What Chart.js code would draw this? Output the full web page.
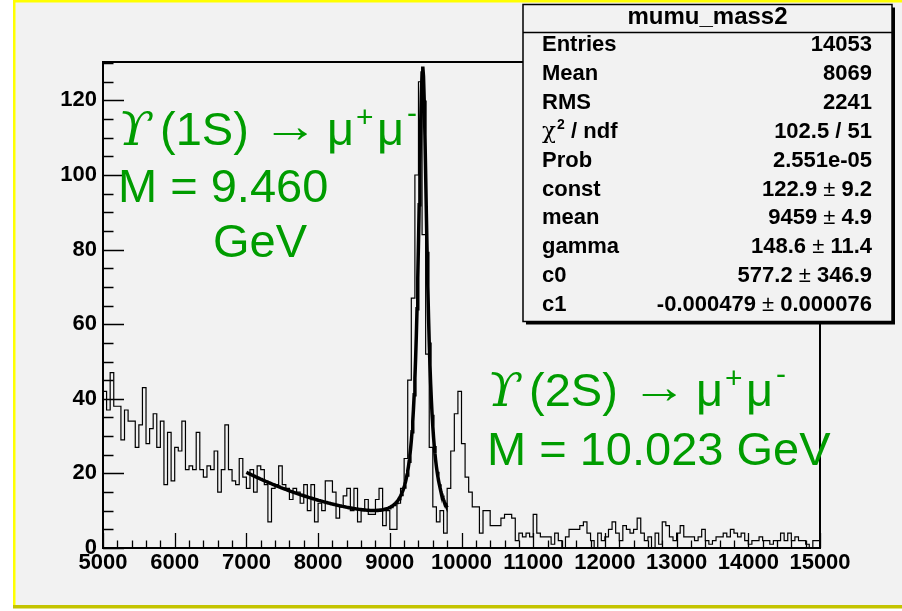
<!DOCTYPE html>
<html>
<head>
<meta charset="utf-8">
<script src="https://cdn.jsdelivr.net/npm/chart.js@4.4.1/dist/chart.umd.min.js"></script>
<style>
    html, body { margin: 0; padding: 0; background: #ffffff; }
    canvas { display: block; }
</style>
</head>
<body>
<canvas id="chartMass" width="902" height="611"></canvas>
<script>
// Istogramma massa invariante mu+mu- (bin da 50 MeV)
const X_MIN = 5000;
const X_MAX = 15000;
const BIN_WIDTH = 50;
const Y_MAX = 130.3;

const xTicks = [5000, 6000, 7000, 8000, 9000, 10000, 11000, 12000, 13000, 14000, 15000];
const yTicks = [0, 20, 40, 60, 80, 100, 120];

// conteggi per bin, da 5000 a 15000
const counts = [
    38, 42, 37, 47, 38, 38, 29, 37, 34, 34,
    27, 33, 43, 28, 32, 36, 27, 34, 17, 31,
    18, 27, 26, 34, 21, 22, 21, 31, 21, 19,
    22, 21, 26, 15, 21, 33, 21, 18, 17, 24,
    19, 16, 21, 15, 22, 21, 17, 7, 16, 17,
    22, 17, 16, 13, 16, 15, 12, 17, 10, 17,
    7, 12, 10, 18, 18, 15, 8, 11, 14, 16,
    10, 16, 7, 10, 13, 9, 9, 13, 16, 6,
    10, 5, 5, 12, 16, 24, 45, 67, 100, 125,
    84, 52, 27, 11, 7, 10, 4, 16, 26, 36,
    42, 28, 19, 15, 11, 11, 4, 10, 10, 6,
    6, 6, 8, 9, 9, 8, 2, 4, 3, 4,
    3, 9, 4, 3, 3, 3, 1, 4, 2, 0,
    3, 5, 5, 5, 6, 7, 4, 2, 0, 4,
    2, 3, 5, 7, 4, 2, 6, 5, 4, 5,
    8, 4, 2, 3, 0, 4, 1, 7, 6, 3,
    2, 4, 6, 3, 3, 3, 2, 3, 5, 2,
    1, 2, 3, 3, 4, 3, 5, 4, 3, 4,
    2, 1, 2, 2, 3, 2, 2, 1, 2, 2,
    4, 2, 4, 2, 3, 2, 2, 1, 0, 2
];

// parametri del fit (Breit-Wigner + fondo esponenziale)
const fitNames = ['const', 'mean', 'gamma', 'c0', 'c1'];
const fitValues = [122.9, 9459, 148.6, 577.2, -0.000479];
const fitErrors = [9.2, 4.9, 11.4, 346.9, 0.000076];
const fitRange = [7000, 9800];

const statNames = ['Entries', 'Mean', 'RMS', 'χ2 / ndf', 'Prob'];
const statValues = ['14053', '8069', '2241', '102.5 / 51', '2.551e-05'];

const HIST_NAME = 'mumu_mass2';
const GREEN = '#009c00';
const FONT = '"Liberation Sans", Arial, sans-serif';

// funzione di fit valutata con i parametri sopra
function fitFunction(x) {
    const [c, m, g, c0, c1] = fitValues;
    const t = (x - m) / (g / 2);
    return c / (1 + t * t) + c0 * Math.exp(c1 * x);
}

function buildHistPoints() {
    const pts = counts.map((v, i) => ({ x: X_MIN + i * BIN_WIDTH, y: v }));
    pts.push({ x: X_MAX, y: counts[counts.length - 1] });
    return pts;
}

function buildFitPoints() {
    const pts = [];
    for (let x = fitRange[0]; x <= fitRange[1]; x += 10) {
        pts.push({ x: x, y: fitFunction(x) });
    }
    return pts;
}

// testo compresso/allargato a una larghezza data
function fitText(ctx, text, x, y, width) {
    const w = ctx.measureText(text).width;
    ctx.save();
    ctx.translate(x, y);
    ctx.scale(width / w, 1);
    ctx.fillText(text, 0, 0);
    ctx.restore();
}

// Sfondo della canvas stile ROOT
function drawBackground(ctx) {
    ctx.save();
    ctx.fillStyle = '#ffffff';
    ctx.fillRect(0, 0, 902, 611);
    ctx.fillStyle = '#f2f2f2';
    ctx.fillRect(14, 1, 888, 606);
    ctx.fillStyle = '#ffff00';
    ctx.fillRect(13, 0, 889, 2.5);
    ctx.fillRect(13, 0, 2.5, 608);
    ctx.fillStyle = '#c4c400';
    ctx.fillRect(13, 605, 889, 3.5);
    ctx.restore();
}

// Cornice e tacche degli assi (verso l'interno)
function drawFrame(chart) {
    const ctx = chart.ctx;
    const a = chart.chartArea;
    const xs = chart.scales.x;
    const ys = chart.scales.y;
    ctx.save();
    ctx.strokeStyle = '#000';
    ctx.lineWidth = 2;
    ctx.strokeRect(a.left, a.top, a.right - a.left, a.bottom - a.top);

    ctx.lineWidth = 1.3;
    ctx.beginPath();
    for (let v = X_MIN; v <= X_MAX; v += 200) {
        const px = Math.round(xs.getPixelForValue(v)) + 0.5;
        const len = v % 1000 === 0 ? 15 : 7.5;
        ctx.moveTo(px, a.bottom);
        ctx.lineTo(px, a.bottom - len);
    }
    for (let v = 0; v <= Y_MAX; v += 5) {
        const py = Math.round(ys.getPixelForValue(v)) + 0.5;
        const len = v % 20 === 0 ? 21 : 10.5;
        ctx.moveTo(a.left, py);
        ctx.lineTo(a.left + len, py);
    }
    ctx.stroke();
    ctx.restore();
}

// Box statistiche in alto a destra
function drawStatsBox(ctx) {
    const left = 523, top = 4.5, right = 892, bottom = 321.5;
    const labelX = 542, valueX = 872;
    ctx.save();
    ctx.fillStyle = '#000';
    ctx.fillRect(left + 3, top + 3, right - left, bottom - top);
    ctx.fillStyle = '#f2f2f2';
    ctx.fillRect(left, top, right - left, bottom - top);
    ctx.strokeStyle = '#000';
    ctx.lineWidth = 1.5;
    ctx.strokeRect(left, top, right - left, bottom - top);
    ctx.beginPath();
    ctx.moveTo(left, 32.5);
    ctx.lineTo(right, 32.5);
    ctx.stroke();

    ctx.fillStyle = '#000';
    ctx.textBaseline = 'alphabetic';
    ctx.textAlign = 'center';
    ctx.font = 'bold 24px ' + FONT;
    ctx.fillText(HIST_NAME, (left + right) / 2, 24);

    const bold = 'bold 22px ' + FONT;
    const plain = '22px ' + FONT;
    const names = statNames.concat(fitNames);
    const values = statValues.concat(fitValues.map((v, i) => [String(v), String(fitErrors[i])]));

    names.forEach((name, k) => {
        const y = 51 + 28.9 * k;
        ctx.textAlign = 'left';
        if (name.startsWith('χ2')) {
            ctx.font = '23px "DejaVu Serif", serif';
            ctx.fillText('χ', labelX, y);
            const wc = ctx.measureText('χ').width;
            ctx.font = 'bold 14px ' + FONT;
            ctx.fillText('2', labelX + wc + 1, y - 9);
            ctx.font = bold;
            ctx.fillText(name.slice(2), labelX + wc + 9, y);
        } else {
            ctx.font = bold;
            ctx.fillText(name, labelX, y);
        }

        const val = values[k];
        if (Array.isArray(val)) {
            ctx.font = bold;
            const w1 = ctx.measureText(val[0]).width;
            const w3 = ctx.measureText(val[1]).width;
            ctx.font = plain;
            const w2 = ctx.measureText(' ± ').width;
            let x = valueX - (w1 + w2 + w3);
            ctx.font = bold;
            ctx.fillText(val[0], x, y);
            ctx.font = plain;
            ctx.fillText(' ± ', x + w1, y);
            ctx.font = bold;
            ctx.fillText(val[1], x + w1 + w2, y);
        } else {
            ctx.font = bold;
            ctx.textAlign = 'right';
            ctx.fillText(val, valueX, y);
        }
    });
    ctx.restore();
}

// Etichetta del decadimento: Y(nS) -> mu+ mu-
function drawDecay(ctx, x, y, state) {
    ctx.font = 'italic 47px "DejaVu Serif", serif';
    fitText(ctx, 'ϒ', x, y, 34);
    ctx.font = '47px ' + FONT;
    ctx.fillText('(' + state + ')', x + 42, y);
    ctx.font = '47px "Liberation Serif", serif';
    fitText(ctx, '→', x + 144, y - 3, 56);
    ctx.font = '47px ' + FONT;
    ctx.fillText('μ', x + 209, y);
    ctx.fillText('μ', x + 259, y);
    ctx.font = '30px ' + FONT;
    ctx.fillText('+', x + 238, y - 18);
    ctx.fillText('-', x + 289, y - 22);
}

function drawPeakLabels(ctx) {
    ctx.save();
    ctx.fillStyle = GREEN;
    ctx.textAlign = 'left';
    ctx.textBaseline = 'alphabetic';
    drawDecay(ctx, 118, 145, '1S');
    ctx.font = '47px ' + FONT;
    ctx.fillText('M = 9.460', 118, 202);
    ctx.fillText('GeV', 213, 257);
    drawDecay(ctx, 487, 406, '2S');
    ctx.font = '47px ' + FONT;
    ctx.fillText('M = 10.023 GeV', 487, 465);
    ctx.restore();
}

const rootStyle = {
    id: 'rootStyle',
    beforeDraw(chart) {
        drawBackground(chart.ctx);
    },
    afterDatasetsDraw(chart) {
        drawFrame(chart);
        drawStatsBox(chart.ctx);
        drawPeakLabels(chart.ctx);
    }
};

function createHistogram() {
    const canvas = document.getElementById('chartMass');
    const tickFont = { family: FONT, size: 22, weight: 'bold' };

    return new Chart(canvas.getContext('2d'), {
        type: 'line',
        data: {
            datasets: [
                {
                    data: buildFitPoints(),
                    borderColor: '#000',
                    borderWidth: 3.5,
                    pointRadius: 0,
                    tension: 0,
                    order: 0
                },
                {
                    data: buildHistPoints(),
                    borderColor: '#000',
                    borderWidth: 1.2,
                    pointRadius: 0,
                    stepped: 'after',
                    order: 1
                }
            ]
        },
        options: {
            responsive: false,
            animation: false,
            events: [],
            layout: { padding: { left: 0, right: 82, top: 62, bottom: 0 } },
            plugins: {
                legend: { display: false },
                tooltip: { enabled: false }
            },
            scales: {
                x: {
                    type: 'linear',
                    min: X_MIN,
                    max: X_MAX,
                    afterBuildTicks: (s) => { s.ticks = xTicks.map(v => ({ value: v })); },
                    afterFit: (s) => { s.height = 63; },
                    grid: { display: false, drawTicks: false },
                    border: { display: false },
                    ticks: {
                        font: tickFont,
                        color: '#000',
                        padding: 2,
                        maxRotation: 0,
                        autoSkip: false,
                        callback: (v) => String(v)
                    }
                },
                y: {
                    min: 0,
                    max: Y_MAX,
                    afterBuildTicks: (s) => { s.ticks = yTicks.map(v => ({ value: v })); },
                    afterFit: (s) => { s.width = 103; },
                    grid: { display: false, drawTicks: false },
                    border: { display: false },
                    ticks: {
                        font: tickFont,
                        color: '#000',
                        padding: 6,
                        autoSkip: false,
                        callback: (v) => String(v)
                    }
                }
            }
        },
        plugins: [rootStyle]
    });
}

document.addEventListener('DOMContentLoaded', createHistogram);
</script>
</body>
</html>
